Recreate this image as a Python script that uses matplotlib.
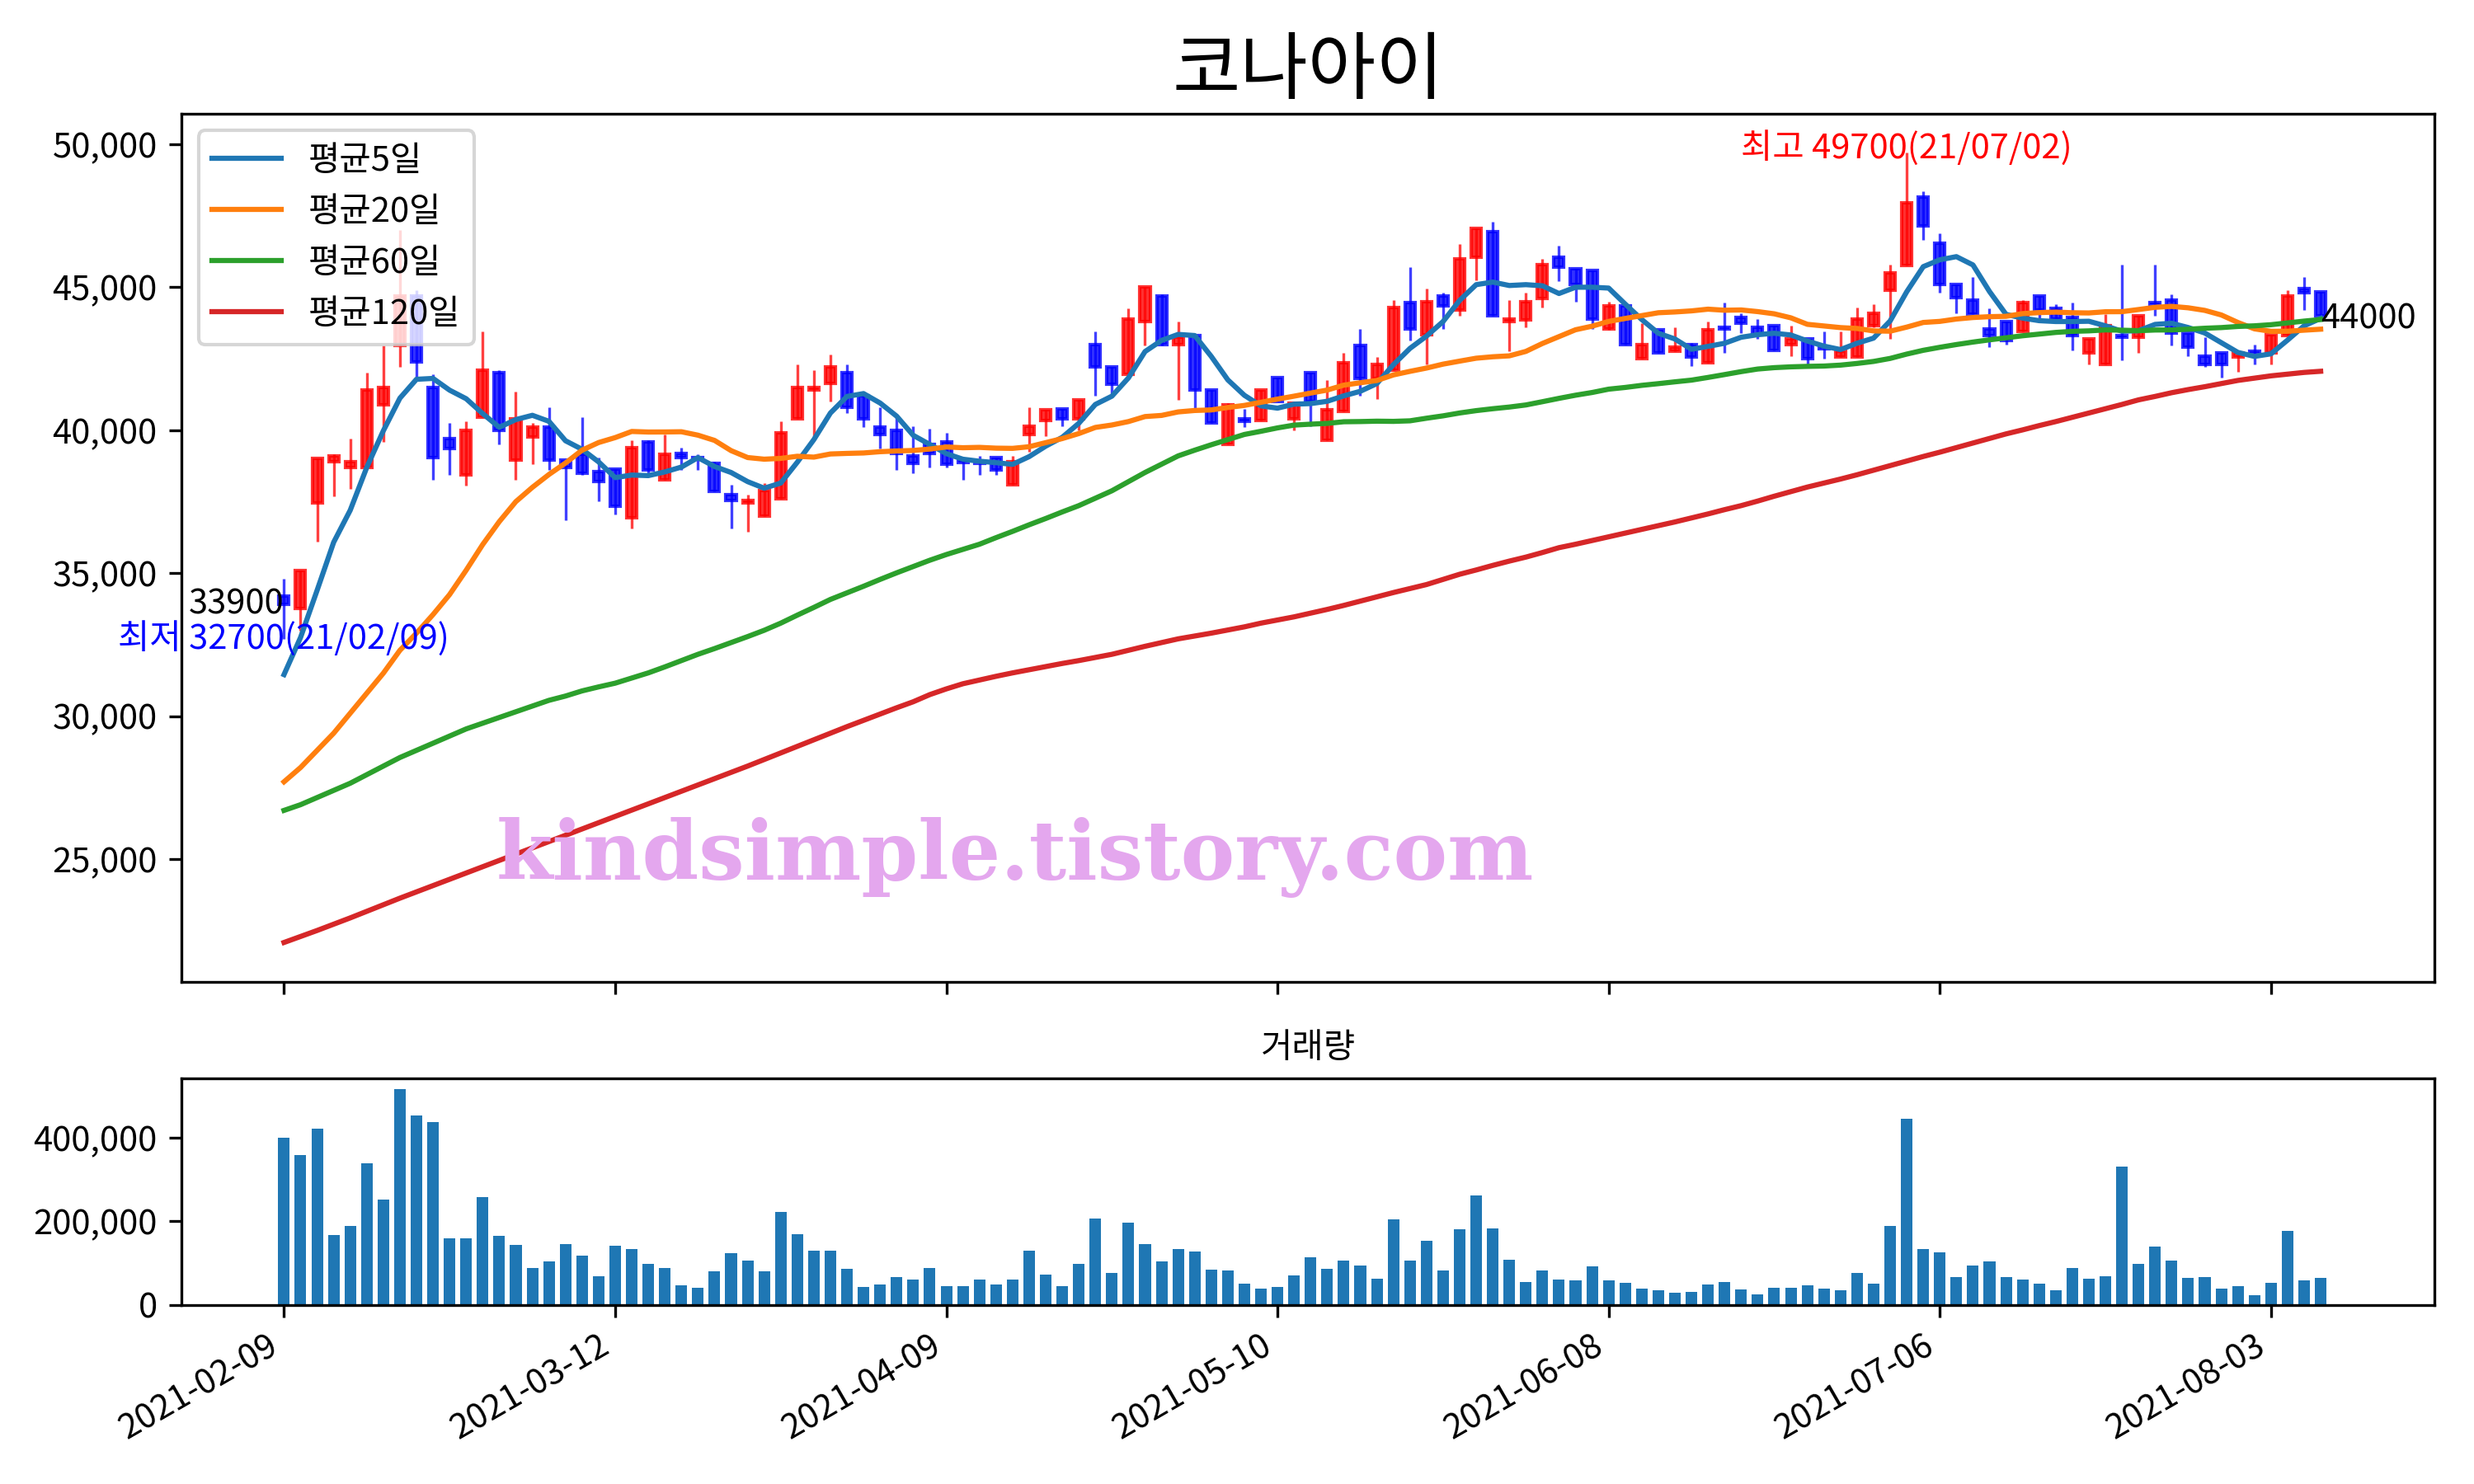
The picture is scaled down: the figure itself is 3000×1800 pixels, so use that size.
import matplotlib
matplotlib.use('Agg')
import matplotlib.pyplot as plt
import matplotlib.ticker as ticker
import numpy as np
import pandas as pd

plt.rcParams['font.family'] = ['Noto Sans CJK KR', 'DejaVu Sans']
plt.rcParams['axes.unicode_minus'] = False

name = '코나아이'

# 일봉 (2021-02-09 ~ 2021-08-06), 차트에서 읽은 값
opens = [34200, 33750, 37450, 38900, 38700, 38700, 40900, 42950, 44700, 41500,
         39700, 38450, 40450, 42000, 38950, 39750, 40100, 38950, 39150, 38550,
         38650, 36950, 39600, 38250, 39200, 39050, 38850, 37750, 37450, 37000,
         37600, 40400, 41400, 41650, 42000, 41200, 40100, 40000, 39100, 39500,
         39600, 38950, 38900, 39050, 38100, 39850, 40350, 40750, 40400, 43000,
         42200, 41950, 43800, 44700, 43000, 43300, 41400, 39500, 40400, 40350,
         41850, 40400, 42000, 39650, 40650, 42950, 41800, 42100, 44450, 43350,
         44700, 44200, 46050, 46950, 43800, 43850, 44600, 46050, 45650, 45600,
         43550, 44350, 42500, 43500, 42750, 43000, 42350, 43600, 43950, 43600,
         43650, 43000, 43200, 42900, 42550, 42550, 43650, 44900, 45750, 48150,
         46550, 45100, 44550, 43550, 43800, 43450, 44700, 44250, 43950, 42700,
         42300, 43300, 43250, 44450, 44550, 43400, 42600, 42700, 42550, 42750,
         42700, 43300, 44950, 44850]
highs = [34800, 35100, 39000, 39150, 39700, 42000, 42950, 47000, 44900, 41950,
         40250, 40300, 43450, 42100, 41350, 40250, 40800, 38950, 40450, 39050,
         38650, 39650, 39650, 39850, 39400, 39170, 38900, 38100, 37750, 38150,
         40300, 42300, 42100, 42650, 42300, 41200, 40800, 40500, 40150, 40050,
         39900, 39050, 39100, 39050, 39100, 40800, 40700, 40750, 41050, 43450,
         42200, 44250, 45000, 44750, 43800, 43300, 41400, 40950, 40750, 41400,
         41850, 40950, 42000, 41750, 42700, 43550, 42550, 44550, 45700, 44950,
         44800, 46500, 47050, 47300, 44550, 44800, 46000, 46450, 45650, 45600,
         44500, 44350, 43750, 43500, 43600, 43050, 43800, 44450, 44100, 43900,
         43650, 43650, 43200, 43450, 43450, 44300, 44400, 45800, 49700, 48350,
         46900, 45100, 45350, 44250, 43800, 44550, 44700, 44400, 44450, 43200,
         44050, 45800, 44000, 45800, 44750, 43400, 43250, 42700, 42700, 43000,
         43350, 44900, 45350, 44850]
lows = [32700, 33000, 36100, 37700, 37950, 38700, 39600, 42200, 41800, 38250,
        38450, 38050, 40450, 39500, 38250, 38800, 38600, 36850, 38450, 37500,
        37050, 36550, 38450, 38250, 38600, 38600, 37850, 36550, 36450, 37000,
        37600, 40400, 39700, 41000, 40600, 40100, 39350, 38600, 38500, 38700,
        38700, 38250, 38450, 38450, 38100, 39250, 39800, 40150, 40000, 41200,
        41300, 41950, 42950, 42950, 41050, 40750, 40250, 39500, 40100, 40350,
        41000, 40000, 40150, 39650, 40650, 41200, 41100, 42100, 43150, 42300,
        43550, 44000, 45250, 44000, 42750, 43600, 44300, 45200, 44500, 43550,
        43500, 43000, 42500, 42700, 42750, 42250, 42350, 42700, 43400, 43200,
        42800, 42600, 42300, 42500, 42550, 42550, 43600, 43200, 45750, 46650,
        44800, 44100, 44050, 42900, 43000, 43450, 43900, 43900, 42800, 42300,
        42300, 42450, 42700, 44000, 42950, 42600, 42200, 41850, 42050, 42300,
        42300, 43300, 44200, 44000]
closes = [33900, 35100, 39000, 39100, 38900, 41400, 41500, 44700, 42400, 39050,
          39350, 40000, 42100, 40000, 40400, 40100, 38950, 38700, 38500, 38200,
          37350, 39400, 38600, 39150, 39050, 39000, 37850, 37550, 37550, 37900,
          39900, 41500, 41500, 42200, 40800, 40400, 39850, 39200, 38850, 39200,
          38800, 38870, 38850, 38600, 38900, 40150, 40700, 40400, 41050, 42200,
          41600, 43900, 45000, 43000, 43250, 41400, 40250, 40900, 40300, 41400,
          41000, 40950, 41000, 40700, 42350, 41800, 42300, 44300, 43550, 44500,
          44350, 46000, 47050, 44000, 43900, 44500, 45800, 45700, 45100, 43900,
          44350, 43000, 43000, 42700, 42900, 42550, 43500, 43550, 43750, 43350,
          42800, 43200, 42500, 42850, 42750, 43900, 44100, 45500, 47950, 47150,
          45100, 44650, 44050, 43300, 43150, 44450, 44200, 43900, 43300, 43200,
          43650, 43250, 44000, 44400, 43400, 42900, 42300, 42300, 42700, 42700,
          43350, 44700, 44800, 44000]
volumes = [400000, 358000, 421000, 167000, 189000, 339000, 252000, 516000, 453000, 437000,
           159000, 159000, 258000, 165000, 143000, 88000, 104000, 145000, 118000, 68000,
           141000, 133000, 98000, 88000, 47000, 41000, 80000, 124000, 106000, 80000,
           222000, 169000, 130000, 130000, 86000, 43000, 49000, 66000, 60000, 88000,
           45000, 45000, 60000, 49000, 60000, 130000, 72000, 45000, 98000, 206000,
           76000, 197000, 145000, 104000, 133000, 128000, 84000, 82000, 51000, 39000,
           43000, 70000, 114000, 86000, 106000, 94000, 62000, 204000, 106000, 153000,
           82000, 181000, 262000, 183000, 108000, 55000, 82000, 60000, 58000, 92000,
           58000, 53000, 39000, 35000, 29000, 31000, 49000, 55000, 37000, 25000,
           41000, 41000, 47000, 39000, 35000, 76000, 51000, 189000, 445000, 133000,
           126000, 66000, 94000, 104000, 66000, 60000, 51000, 35000, 88000, 62000,
           68000, 331000, 98000, 139000, 106000, 64000, 66000, 39000, 45000, 23000,
           53000, 177000, 58000, 64000]

# 이동평균 중 이전 기간 데이터가 필요한 앞부분
ma5_head = [31450, 32750, 34400, 36080]
ma20_head = [27700, 28200, 28800, 29400, 30100, 30800, 31500, 32300, 32900, 33550,
             34250, 35100, 36000, 36800, 37500, 38000, 38450, 38850, 39300]
ma60_head = [26700, 26900, 27150, 27400, 27650, 27950, 28250, 28550, 28800, 29050,
             29300, 29550, 29750, 29950, 30150, 30350, 30550, 30700, 30880, 31020,
             31150, 31330, 31510, 31720, 31940, 32160, 32360, 32570, 32780, 33000,
             33250, 33530, 33800, 34080, 34310, 34540, 34780, 35010, 35230, 35450,
             35650, 35830, 36010, 36240, 36460, 36690, 36910, 37140, 37360, 37620,
             37880, 38200, 38520, 38810, 39100, 39300, 39490, 39670, 39850]
ma120 = [22080, 22290, 22500, 22720, 22940, 23170, 23400, 23630, 23850, 24070,
         24290, 24510, 24730, 24950, 25170, 25390, 25610, 25830, 26050, 26270,
         26490, 26710, 26930, 27150, 27370, 27590, 27810, 28030, 28250, 28480,
         28710, 28940, 29170, 29400, 29630, 29850, 30070, 30290, 30500, 30750,
         30950, 31130, 31260, 31390, 31510, 31620, 31730, 31840, 31940, 32050,
         32160, 32300, 32440, 32570, 32700, 32800, 32900, 33010, 33120, 33250,
         33360, 33470, 33600, 33730, 33870, 34020, 34170, 34320, 34460, 34600,
         34780, 34960, 35110, 35270, 35420, 35560, 35720, 35890, 36010, 36140,
         36270, 36400, 36530, 36660, 36790, 36930, 37070, 37220, 37360, 37520,
         37690, 37850, 38010, 38150, 38290, 38440, 38600, 38760, 38920, 39080,
         39230, 39390, 39550, 39710, 39870, 40010, 40160, 40300, 40450, 40600,
         40750, 40900, 41060, 41180, 41310, 41420, 41520, 41630, 41740, 41820,
         41900, 41960, 42020, 42060]

tick_labels = ['2021-02-09', '2021-03-12', '2021-04-09', '2021-05-10',
               '2021-06-08', '2021-07-06', '2021-08-03']
hi_date = '21/07/02'
lo_date = '21/02/09'

df = pd.DataFrame({'open': opens, 'high': highs, 'low': lows,
                   'close': closes, 'volume': volumes})
x = np.arange(len(df))

ma5 = df['close'].rolling(5).mean().to_numpy()
ma5[:len(ma5_head)] = ma5_head
ma20 = df['close'].rolling(20).mean().to_numpy()
ma20[:len(ma20_head)] = ma20_head
ma60 = df['close'].rolling(60).mean().to_numpy()
ma60[:len(ma60_head)] = ma60_head

fig = plt.figure(figsize=(10, 6), dpi=300)
ax = fig.add_axes([0.0733, 0.3383, 0.9107, 0.5853])
ax_v = fig.add_axes([0.0733, 0.1207, 0.9107, 0.1525], sharex=ax)

# 캔들
colors = np.where(df['close'] >= df['open'], 'red', 'blue')
ax.vlines(x, df['low'], df['high'], colors=colors, linewidth=0.8, alpha=0.75)
ax.bar(x, df['close'] - df['open'], bottom=df['open'], width=0.6,
       color=colors, edgecolor=colors, linewidth=1, alpha=0.8)

ax.plot(x, ma5, label='평균5일')
ax.plot(x, ma20, label='평균20일')
ax.plot(x, ma60, label='평균60일')
ax.plot(x, ma120, label='평균120일')
ax.legend(loc='upper left')

# 최고/최저, 시작/마지막 종가
imax = int(df['high'].idxmax())
imin = int(df['low'].idxmin())
ax.annotate(f"최고 {df['high'][imax]}({hi_date})", (imax, df['high'][imax]),
            xytext=(0, 1.5), textcoords='offset points',
            color='red', ha='center', va='center')
ax.text(imin, df['low'][imin], f"최저 {df['low'][imin]}({lo_date})",
        color='blue', ha='center', va='center')
ax.text(x[0], df['close'].iloc[0], str(df['close'].iloc[0]), ha='right', va='center')
ax.annotate(str(df['close'].iloc[-1]), (x[-1], df['close'].iloc[-1]),
            xytext=(0, -1), textcoords='offset points', ha='left', va='center')

# 워터마크
wm = ax.text(0.37, 0.143, 'kindsimple.tistory.com', transform=ax.transAxes,
             ha='center', va='center', fontsize=22, fontweight='bold',
             family='DejaVu Serif', color='#E4A7EE')
fig.canvas.draw()
w = wm.get_window_extent().width
wm.set_fontsize(22 * 1257 / w)

ax.set_title(name, fontsize=21.5)
ax.yaxis.set_major_formatter(ticker.StrMethodFormatter('{x:,.0f}'))
ax.tick_params(labelbottom=False)
ax.set_xlim(-6.2, 129.87)

# 거래량
ax_v.bar(x, df['volume'], width=0.7, color='tab:blue')
ax_v.set_title('거래량', fontsize=10)
ax_v.yaxis.set_major_formatter(ticker.StrMethodFormatter('{x:,.0f}'))
ax_v.set_yticks([0, 200000, 400000])
ax_v.set_xticks(range(0, len(df), 20))
ax_v.set_xticklabels(tick_labels, rotation=30, ha='right')

fig.savefig('out.png', dpi=300)
